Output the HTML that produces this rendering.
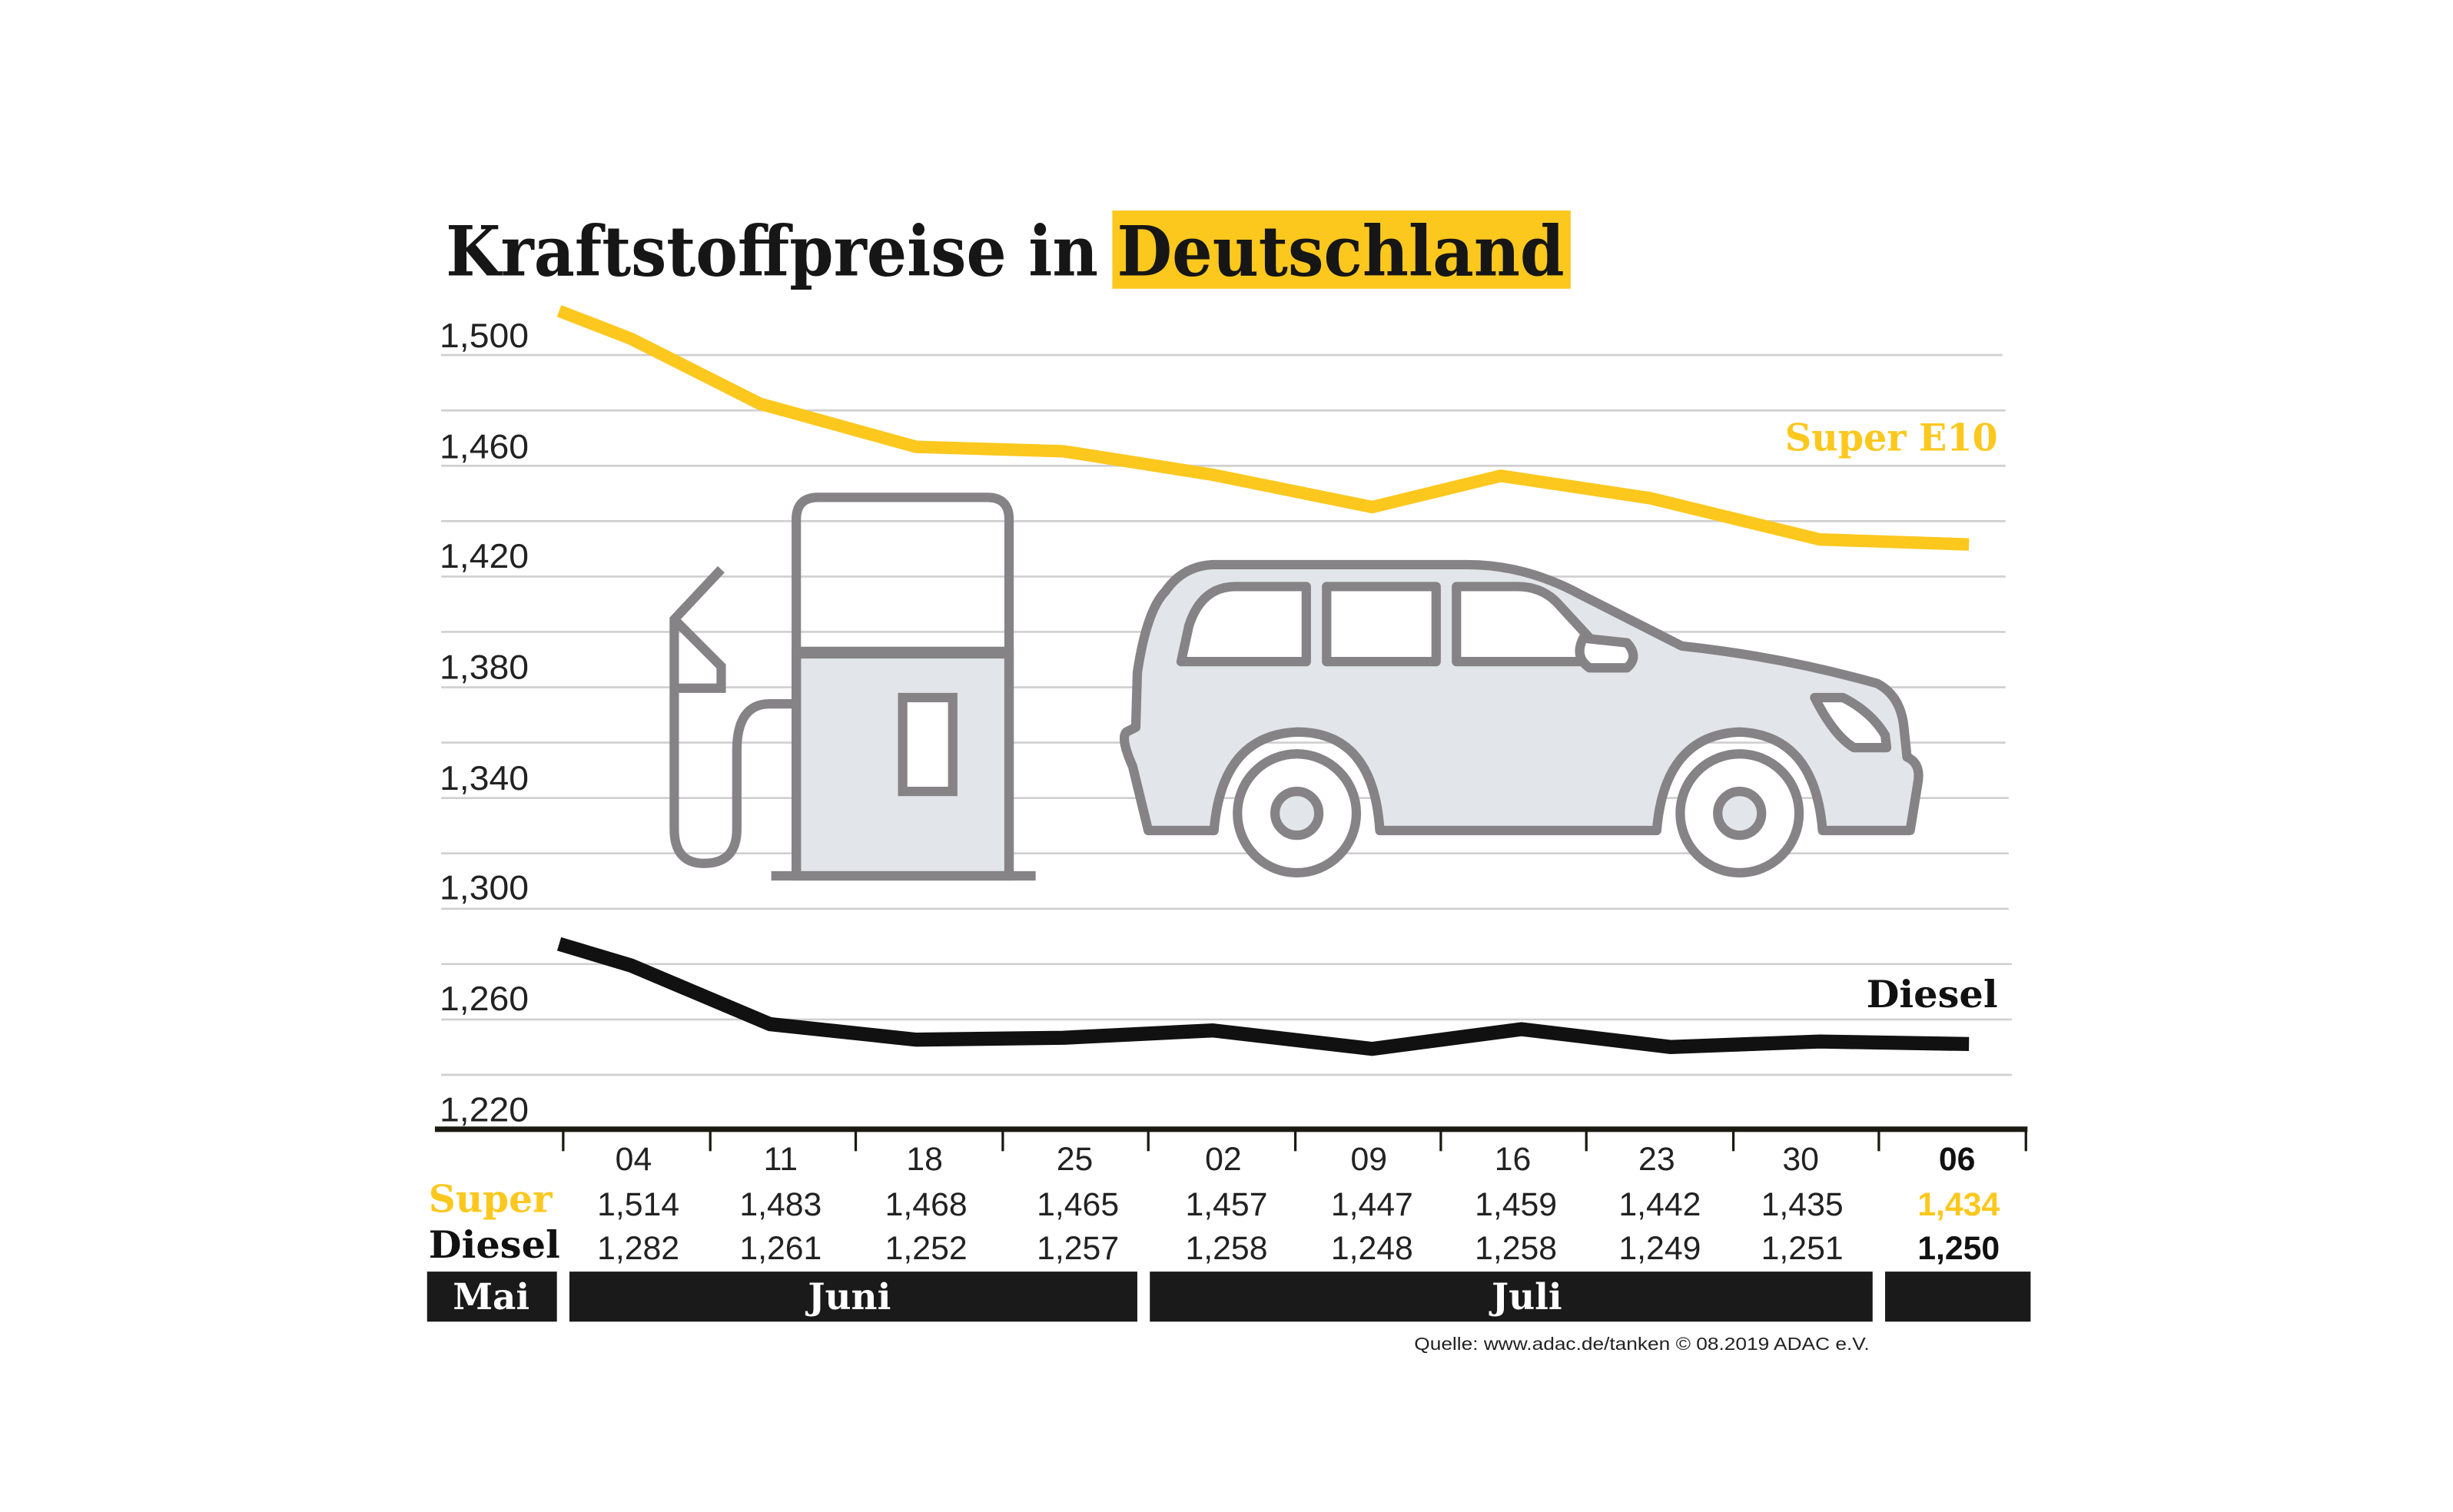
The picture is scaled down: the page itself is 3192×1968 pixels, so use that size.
<!DOCTYPE html>
<html><head><meta charset="utf-8"><style>
html,body{margin:0;padding:0;background:#fff;}
svg{display:block;}
.sl{font-family:"DejaVu Serif","Liberation Serif",serif;font-weight:bold;}
.nm{font-family:"Liberation Sans",sans-serif;font-weight:300;fill:#222;}
</style></head><body>
<svg width="3192" height="1968" viewBox="0 0 1568 966.7" preserveAspectRatio="none" xmlns="http://www.w3.org/2000/svg">
<rect width="1568" height="967" fill="#fff"/>
<rect x="711" y="134.6" width="293" height="50" fill="#fcc81e"/>
<text class="sl" x="285" y="176" font-size="44" fill="#161616" textLength="417" lengthAdjust="spacingAndGlyphs">Kraftstoffpreise in</text>
<text class="sl" x="714" y="176" font-size="44" fill="#161616" textLength="286" lengthAdjust="spacingAndGlyphs">Deutschland</text>
<g stroke="#cfcfcf" stroke-width="1.3">
<line x1="282" x2="1280" y1="227" y2="227"/><line x1="282" x2="1282" y1="262.4" y2="262.4"/>
<line x1="282" x2="1282" y1="297.8" y2="297.8"/><line x1="282" x2="1282" y1="333.2" y2="333.2"/>
<line x1="282" x2="1282" y1="368.6" y2="368.6"/><line x1="282" x2="1282" y1="404" y2="404"/>
<line x1="282" x2="1282" y1="439.4" y2="439.4"/><line x1="282" x2="1282" y1="474.8" y2="474.8"/>
<line x1="282" x2="1284" y1="510.2" y2="510.2"/><line x1="282" x2="1284" y1="545.6" y2="545.6"/>
<line x1="282" x2="1284" y1="581" y2="581"/><line x1="282" x2="1286" y1="616.4" y2="616.4"/>
<line x1="282" x2="1286" y1="651.8" y2="651.8"/><line x1="282" x2="1286" y1="687.2" y2="687.2"/>
</g>
<g class="nm" font-size="22">
<text x="281" y="222" textLength="57" lengthAdjust="spacingAndGlyphs">1,500</text>
<text x="281" y="293" textLength="57" lengthAdjust="spacingAndGlyphs">1,460</text>
<text x="281" y="363" textLength="57" lengthAdjust="spacingAndGlyphs">1,420</text>
<text x="281" y="434" textLength="57" lengthAdjust="spacingAndGlyphs">1,380</text>
<text x="281" y="505" textLength="57" lengthAdjust="spacingAndGlyphs">1,340</text>
<text x="281" y="575" textLength="57" lengthAdjust="spacingAndGlyphs">1,300</text>
<text x="281" y="646" textLength="57" lengthAdjust="spacingAndGlyphs">1,260</text>
<text x="281" y="717" textLength="57" lengthAdjust="spacingAndGlyphs">1,220</text>
</g>
<g stroke="#858386" stroke-width="6" fill="none">
<path d="M509,418 V560 H645 V418 Z" fill="#e2e5e9"/>
<path d="M509,560 V332 Q509,318 523,318 H631 Q645,318 645,332 V560"/>
<line x1="509" y1="417" x2="645" y2="417" stroke-width="7"/>
<rect x="577" y="446" width="32" height="60" fill="#fff"/>
<line x1="493" y1="560" x2="662" y2="560" stroke-width="6"/>
<path d="M508,450 H492 Q471,450 471,480 V530 Q471,552 450,552 Q431,552 431,530 V396 L461,364"/>
<path d="M431,396 L461,426 V440 H431"/>
</g>
<g stroke="#858386" stroke-width="6" fill="#e2e5e9" stroke-linejoin="round">
<path d="M734,531 L724,490 Q716,472 720,468 L726,465 L727,430 Q733,390 745,378 Q756,362 775,361 H938 Q975,361 1010,380 L1075,413 Q1140,420 1200,437 Q1215,445 1217,465 L1219,484 Q1228,488 1226,500 L1221,531 H1165 Q1160,470 1112,468 Q1064,470 1059,531 H882 Q878,468 829,468 Q781,470 776,531 Z"/>
<path d="M755,423 L760,400 Q768,375 790,375 H835 V423 Z" fill="#fff"/>
<rect x="848" y="375" width="70" height="48" fill="#fff"/>
<path d="M931,423 V375 H970 Q985,375 995,385 L1030,423 Z" fill="#fff"/>
<path d="M1012,408 Q1006,420 1016,427 H1040 Q1048,420 1040,411 Z" fill="#fff"/>
<path d="M1160,446 H1178 Q1196,455 1205,470 L1206,478 H1185 Q1172,470 1160,446 Z" fill="#fff"/>
<circle cx="829" cy="520" r="38" fill="#fff"/><circle cx="829" cy="520" r="14"/>
<circle cx="1112" cy="520" r="38" fill="#fff"/><circle cx="1112" cy="520" r="14"/>
</g>
<polyline fill="none" stroke="#fcc81e" stroke-width="8" points="357.4,198.8 403.4,216.6 485.7,258.1 585.6,285.7 679.7,288.5 775.1,303.5 877.1,324.2 959.3,304.2 1054.7,318.5 1163.2,344.9 1258.6,348.1"/>
<polyline fill="none" stroke="#111" stroke-width="9" points="357.4,603.5 403.4,617.3 492.2,654.8 585.6,664.7 679.7,663.5 775.1,658.8 877.1,670.6 972.5,658.0 1067.8,669.4 1163.2,665.9 1258.6,667.5"/>
<text class="sl" x="1277" y="288" font-size="24" fill="#fcc81e" text-anchor="end" textLength="136" lengthAdjust="spacingAndGlyphs">Super E10</text>
<text class="sl" x="1277" y="644" font-size="24" fill="#111" text-anchor="end" textLength="84" lengthAdjust="spacingAndGlyphs">Diesel</text>
<line x1="278" y1="722" x2="1296" y2="722" stroke="#1a1a10" stroke-width="3.5"/>
<g stroke="#1a1a10" stroke-width="1.6">
<line x1="360" y1="722" x2="360" y2="736"/><line x1="454" y1="722" x2="454" y2="736"/>
<line x1="547" y1="722" x2="547" y2="736"/><line x1="641" y1="722" x2="641" y2="736"/>
<line x1="734" y1="722" x2="734" y2="736"/><line x1="828" y1="722" x2="828" y2="736"/>
<line x1="921" y1="722" x2="921" y2="736"/><line x1="1014" y1="722" x2="1014" y2="736"/>
<line x1="1108" y1="722" x2="1108" y2="736"/><line x1="1201" y1="722" x2="1201" y2="736"/>
<line x1="1295" y1="722" x2="1295" y2="736"/>
</g>
<g class="nm" font-size="21" text-anchor="middle">
<text x="405" y="748">04</text><text x="499" y="748">11</text><text x="591" y="748">18</text><text x="687" y="748">25</text><text x="782" y="748">02</text><text x="875" y="748">09</text><text x="967" y="748">16</text><text x="1059" y="748">23</text><text x="1151" y="748">30</text>
<text x="408" y="777">1,514</text><text x="499" y="777">1,483</text><text x="592" y="777">1,468</text><text x="689" y="777">1,465</text><text x="784" y="777">1,457</text><text x="877" y="777">1,447</text><text x="969" y="777">1,459</text><text x="1061" y="777">1,442</text><text x="1152" y="777">1,435</text>
<text x="408" y="805">1,282</text><text x="499" y="805">1,261</text><text x="592" y="805">1,252</text><text x="689" y="805">1,257</text><text x="784" y="805">1,258</text><text x="877" y="805">1,248</text><text x="969" y="805">1,258</text><text x="1061" y="805">1,249</text><text x="1152" y="805">1,251</text>
</g>
<g font-family="Liberation Sans,sans-serif" font-weight="bold" font-size="21" text-anchor="middle">
<text x="1251" y="748" fill="#111">06</text>
<text x="1252" y="777" fill="#fcc81e">1,434</text>
<text x="1252" y="805" fill="#111">1,250</text>
</g>
<text class="sl" x="274" y="775" font-size="24" fill="#fcc81e" textLength="79" lengthAdjust="spacingAndGlyphs">Super</text>
<text class="sl" x="274" y="804" font-size="24" fill="#111" textLength="84" lengthAdjust="spacingAndGlyphs">Diesel</text>
<g fill="#1a1a1a">
<rect x="273" y="813" width="83" height="32"/><rect x="364" y="813" width="363" height="32"/>
<rect x="735" y="813" width="462" height="32"/><rect x="1205" y="813" width="93" height="32"/>
</g>
<g class="sl" fill="#fff" font-size="23" text-anchor="middle">
<text x="314" y="837">Mai</text><text x="543" y="837">Juni</text><text x="976" y="837">Juli</text>
</g>
<text x="904" y="863" font-family="Liberation Sans,sans-serif" font-size="11.5" fill="#222" textLength="291" lengthAdjust="spacingAndGlyphs">Quelle: www.adac.de/tanken   © 08.2019  ADAC e.V.</text>
</svg>
</body></html>
